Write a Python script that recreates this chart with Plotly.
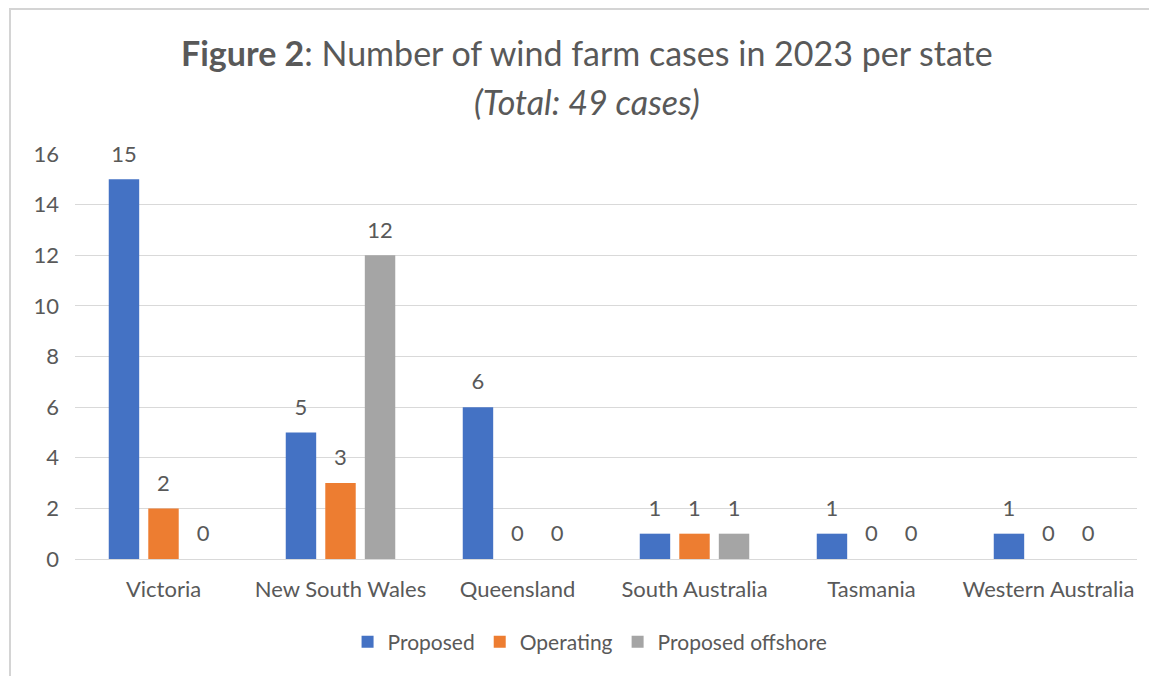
import plotly.graph_objects as go

states = ["Victoria", "New South Wales", "Queensland", "South Australia", "Tasmania", "Western Australia"]
proposed = [15, 5, 6, 1, 1, 1]
operating = [2, 3, 0, 1, 0, 0]
offshore = [0, 12, 0, 1, 0, 0]
series_names = ["Proposed", "Operating", "Proposed offshore"]
colors = ["#4472C4", "#ED7D31", "#A5A5A5"]
y_ticks = [0, 2, 4, 6, 8, 10, 12, 14, 16]

FONT = "Lato, Carlito, Calibri, sans-serif"
TXT = "#595959"
FS = 22

W, H = 1149, 668
L, T, R, B = 67, 146, 20, 117
PW, PH = W - L - R, H - T - B

fig = go.Figure()
for i, (name, vals, col) in enumerate(zip(series_names, [proposed, operating, offshore], colors)):
    fig.add_trace(go.Bar(
        x=states, y=vals, name=name, marker=dict(color=col, line=dict(width=0)),
        offsetgroup=str(i), alignmentgroup="a", hoverinfo="x+y+name",
    ))
for i, (name, vals) in enumerate(zip(series_names, [proposed, operating, offshore])):
    fig.add_trace(go.Scatter(
        x=states, y=vals, mode="markers+text", text=[str(v) for v in vals],
        textposition="top center", textfont=dict(family=FONT, size=FS, color=TXT),
        marker=dict(size=18, opacity=0), offsetgroup=str(i), alignmentgroup="a",
        showlegend=False, hoverinfo="skip", cliponaxis=False,
    ))

fig.update_layout(
    width=W, height=H,
    paper_bgcolor="white", plot_bgcolor="white",
    margin=dict(l=L, r=R, t=T, b=B),
    barmode="group", bargap=0.33, bargroupgap=0.23,
    scattermode="group",
    font=dict(family=FONT, size=FS, color=TXT),
    showlegend=True,
    legend=dict(orientation="h", x=0.485, xanchor="center", y=-(642 - 8 - (T + PH)) / PH, yanchor="middle",
                font=dict(family=FONT, size=21, color=TXT), traceorder="normal", itemwidth=30),
    xaxis=dict(showline=False, ticks="", tickfont=dict(size=FS, color=TXT), ticklabelstandoff=15),
    yaxis=dict(range=[0, 16], tickvals=y_ticks, showgrid=True, gridcolor="#D9D9D9", gridwidth=1,
               zeroline=True, zerolinecolor="#D9D9D9", zerolinewidth=1, showline=False,
               tickfont=dict(size=FS, color=TXT), ticklabelstandoff=15),
)

fig.add_annotation(text="<b>Figure 2</b>: Number of wind farm cases in 2023 per state",
                   xref="paper", yref="paper", x=(579 - L) / PW, y=(T + PH - 44) / PH,
                   xanchor="center", yanchor="middle",
                   showarrow=False, font=dict(family=FONT, size=34, color=TXT))
fig.add_annotation(text="<i>(Total: 49 cases)</i>",
                   xref="paper", yref="paper", x=(579 - L) / PW, y=(T + PH - 94) / PH,
                   xanchor="center", yanchor="middle",
                   showarrow=False, font=dict(family=FONT, size=34, color=TXT))

fig.add_shape(type="rect", xref="paper", yref="paper",
              x0=(2 - L) / PW, x1=1.3, y0=-0.6, y1=(T + PH - 1) / PH,
              line=dict(color="#D4D4D4", width=2), fillcolor="rgba(0,0,0,0)", layer="below")

fig.write_html("out.html")
